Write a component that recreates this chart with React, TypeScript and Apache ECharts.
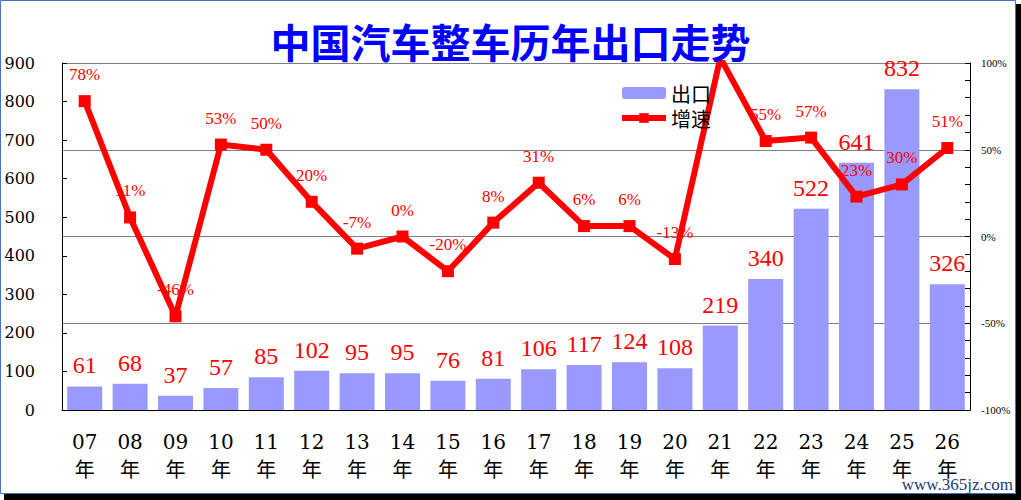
import React, { useEffect, useRef } from "react";
import * as echarts from "echarts";

const titleText = "中国汽车整车历年出口走势";
const categories = ["07年", "08年", "09年", "10年", "11年", "12年", "13年", "14年", "15年", "16年", "17年", "18年", "19年", "20年", "21年", "22年", "23年", "24年", "25年", "26年"];
const exportValues = [61, 68, 37, 57, 85, 102, 95, 95, 76, 81, 106, 117, 124, 108, 219, 340, 522, 641, 832, 326];
const growthValues = [78, 11, -46, 53, 50, 20, -7, 0, -20, 8, 31, 6, 6, -13, 103, 55, 57, 23, 30, 51];
const seriesNames = ["出口", "增速"];
const watermark = "www.365jz.com";

const SERIF = "'Liberation Serif', 'Noto Sans CJK SC', serif";
const DSERIF = "'DejaVu Serif', 'Noto Sans CJK SC', serif";

export default function App() {
  const ref = useRef<HTMLDivElement>(null);
  useEffect(() => {
    document.body.style.margin = "0";
    const chart = echarts.init(ref.current!, null, { renderer: "svg" });
    chart.setOption({
      animation: false,
      backgroundColor: "#ffffff",
      title: {
        text: titleText,
        left: "center",
        top: 16,
        textStyle: { fontSize: 40, color: "#0000ff", fontWeight: "bold", fontFamily: "'Noto Sans CJK SC', sans-serif" },
      },
      legend: {
        data: [
          { name: seriesNames[0] },
          { name: seriesNames[1], lineStyle: { width: 6, color: "#ff0000" } },
        ],
        orient: "vertical",
        left: 614,
        top: 78,
        itemWidth: 44,
        itemHeight: 12,
        itemGap: 5,
        textStyle: { fontSize: 20, color: "#000", fontFamily: "'Noto Sans CJK SC', sans-serif" },
      },
      grid: { left: 62, right: 51, top: 63, bottom: 90, containLabel: false },
      xAxis: {
        type: "category",
        data: categories,
        axisLine: { lineStyle: { color: "#000", width: 1 } },
        axisTick: { inside: true, length: 6, lineStyle: { color: "#000" } },
        axisLabel: {
          interval: 0,
          margin: 18,
          color: "#000",
          fontSize: 20,
          lineHeight: 28,
          fontFamily: DSERIF,
          formatter: (v: string) => v.replace("年", "\n年"),
        },
      },
      yAxis: [
        {
          type: "value",
          min: 0,
          max: 900,
          interval: 100,
          axisLine: { show: true, lineStyle: { color: "#000" } },
          axisTick: { show: true, inside: true, length: 5, lineStyle: { color: "#000" } },
          axisLabel: { color: "#000", fontSize: 16, margin: 27, fontFamily: DSERIF },
          splitLine: { show: false },
        },
        {
          type: "value",
          min: -100,
          max: 100,
          interval: 50,
          position: "right",
          axisLine: { show: true, lineStyle: { color: "#000" } },
          axisTick: { show: true, inside: true, length: 5, lineStyle: { color: "#000" } },
          minorTick: { show: true, splitNumber: 5, length: 5, lineStyle: { color: "#000" } },
          axisLabel: { color: "#000", fontSize: 11, margin: 11, fontFamily: SERIF, formatter: "{value}%" },
          splitLine: { show: true, lineStyle: { color: "#808080", width: 1 } },
        },
      ],
      series: [
        {
          name: seriesNames[0],
          type: "bar",
          data: exportValues,
          barWidth: 35,
          itemStyle: { color: "#9999ff" },
          label: {
            show: true,
            position: "top",
            distance: 9,
            color: "#ff0000",
            fontSize: 24,
            fontFamily: SERIF,
          },
          z: 2,
        },
        {
          name: seriesNames[1],
          type: "line",
          yAxisIndex: 1,
          data: growthValues,
          clip: true,
          symbol: "rect",
          symbolSize: 12,
          lineStyle: { color: "#ff0000", width: 6 },
          itemStyle: { color: "#ff0000" },
          label: {
            show: true,
            position: "top",
            distance: 12,
            color: "#ff0000",
            fontSize: 17,
            fontFamily: SERIF,
            formatter: (p: any) => (p.value > 100 ? "" : p.value + "%"),
          },
          z: 3,
        },
      ],
      graphic: [
        { type: "rect", shape: { x: 1016, y: 4, width: 5, height: 496 }, style: { fill: "#000" }, z: 100 },
        { type: "rect", shape: { x: 4, y: 494, width: 1017, height: 6 }, style: { fill: "#000" }, z: 100 },
        { type: "rect", shape: { x: 0.5, y: 0.5, width: 1015, height: 493 }, style: { fill: "none", stroke: "#4472c4", lineWidth: 1 }, z: 100 },
        {
          type: "text",
          right: 8,
          top: 476,
          style: { text: watermark, fill: "#1c3a78", fontSize: 17, fontFamily: SERIF },
          z: 100,
        },
      ],
    });
    return () => chart.dispose();
  }, []);
  return <div ref={ref} style={{ width: 1021, height: 500 }} />;
}
